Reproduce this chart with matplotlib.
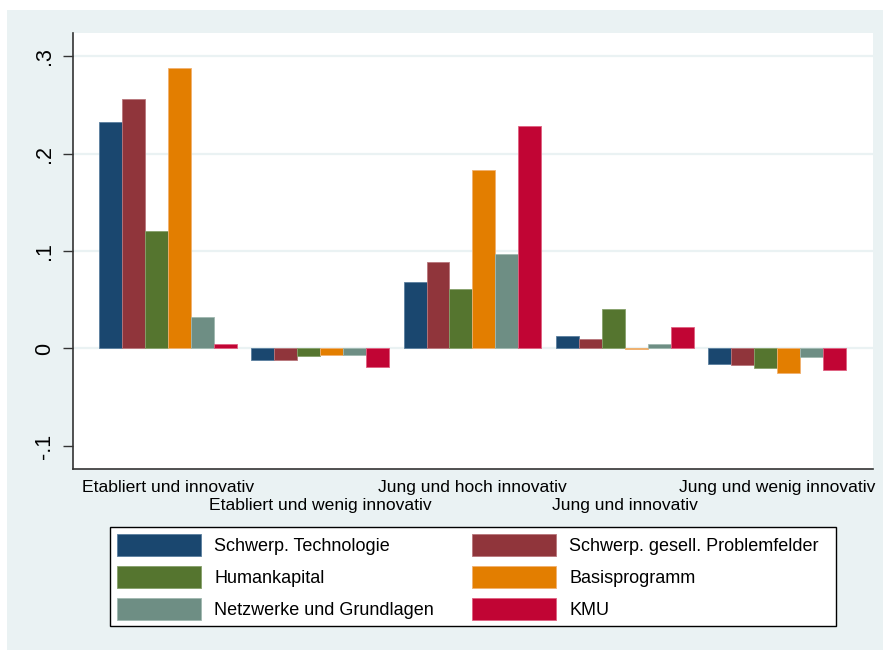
import numpy as np
import matplotlib.pyplot as plt
from matplotlib.patches import Rectangle

plt.rcParams['font.family'] = ['Liberation Sans', 'DejaVu Sans']

groups = ['Etabliert und innovativ', 'Etabliert und wenig innovativ',
          'Jung und hoch innovativ', 'Jung und innovativ',
          'Jung und wenig innovativ']
series = ['Schwerp. Technologie', 'Schwerp. gesell. Problemfelder',
          'Humankapital', 'Basisprogramm',
          'Netzwerke und Grundlagen', 'KMU']
technologie = [0.232, -0.012, 0.068, 0.013, -0.016]
problemfelder = [0.256, -0.012, 0.089, 0.010, -0.017]
humankapital = [0.121, -0.008, 0.061, 0.040, -0.020]
basis = [0.288, -0.0065, 0.183, -0.001, -0.0255]
netzwerke = [0.032, -0.0065, 0.097, 0.005, -0.009]
kmu = [0.005, -0.0185, 0.228, 0.0225, -0.022]
yticks = [-0.1, 0, 0.1, 0.2, 0.3]
ylabels = ['-.1', '0', '.1', '.2', '.3']

values = [technologie, problemfelder, humankapital, basis, netzwerke, kmu]
colors = ['#1A476F', '#90353B', '#55752F', '#E37E00', '#6E8E84', '#C10534']
edges = ['#5a7f9f', '#b8767b', '#86a06a', '#f0b070', '#a0b8b0', '#e06080']
bg = '#EAF2F3'

W, H = 883, 650
fig = plt.figure(figsize=(W / 100, H / 100), dpi=100, facecolor=bg)
# white strip along top and left edge
fig.patches.append(Rectangle((0, 1 - 10 / H), 1, 10 / H, transform=fig.transFigure,
                             facecolor='white', edgecolor='none', zorder=-10))
fig.patches.append(Rectangle((0, 0), 7 / W, 1, transform=fig.transFigure,
                             facecolor='white', edgecolor='none', zorder=-10))

ax = fig.add_axes([73 / W, 1 - 469 / H, 800 / W, 436 / H])
ax.set_facecolor('white')

bw = 23 / 152.5
x = np.arange(len(groups))
for i, (vals, c, ec) in enumerate(zip(values, colors, edges)):
    ax.bar(x - 2.5 * bw + i * bw, vals, bw, color=c, edgecolor=ec,
           linewidth=0.6, label=series[i], zorder=3)

for yv in [0, 0.1, 0.2, 0.3]:
    ax.axhline(yv, color=bg, lw=1.6, zorder=1)

ax.set_xlim(-0.623, 4.63)
ax.set_ylim(-0.1236, 0.3236)
ax.set_yticks(yticks)
ax.set_yticklabels(ylabels, rotation=90, va='center', fontsize=15.5)
ax.tick_params(axis='y', length=7, width=1, color='#333333', pad=6)

ax.set_xticks(x)
ax.set_xticklabels(groups, fontsize=12.6)
ax.tick_params(axis='x', length=0)
for i, t in enumerate(ax.xaxis.get_major_ticks()):
    t.set_pad(8 if i % 2 == 0 else 21)

for s in ['top', 'right']:
    ax.spines[s].set_visible(False)
for s in ['left', 'bottom']:
    ax.spines[s].set_color('#333333')
    ax.spines[s].set_linewidth(1.2)

# legend box drawn by hand, entries placed inside it
fig.patches.append(Rectangle((110 / W, 1 - 626 / H), 726 / W, 99 / H,
                             transform=fig.transFigure, facecolor='white',
                             edgecolor='black', lw=1.0, zorder=1))
h, l = ax.get_legend_handles_labels()
order = [0, 2, 4, 1, 3, 5]
leg = fig.legend([h[k] for k in order], [l[k] for k in order], ncol=2,
                 loc='upper left', mode='expand',
                 bbox_to_anchor=(110 / W, 1 - 527 / H, 716 / W, 0),
                 bbox_transform=fig.transFigure, fontsize=13,
                 handlelength=4.65, handleheight=1.5, handletextpad=0.72,
                 labelspacing=0.55, borderpad=0.4, borderaxespad=0,
                 frameon=False)
leg.set_zorder(2)

fig.savefig('out.png', dpi=100, facecolor=fig.get_facecolor())
